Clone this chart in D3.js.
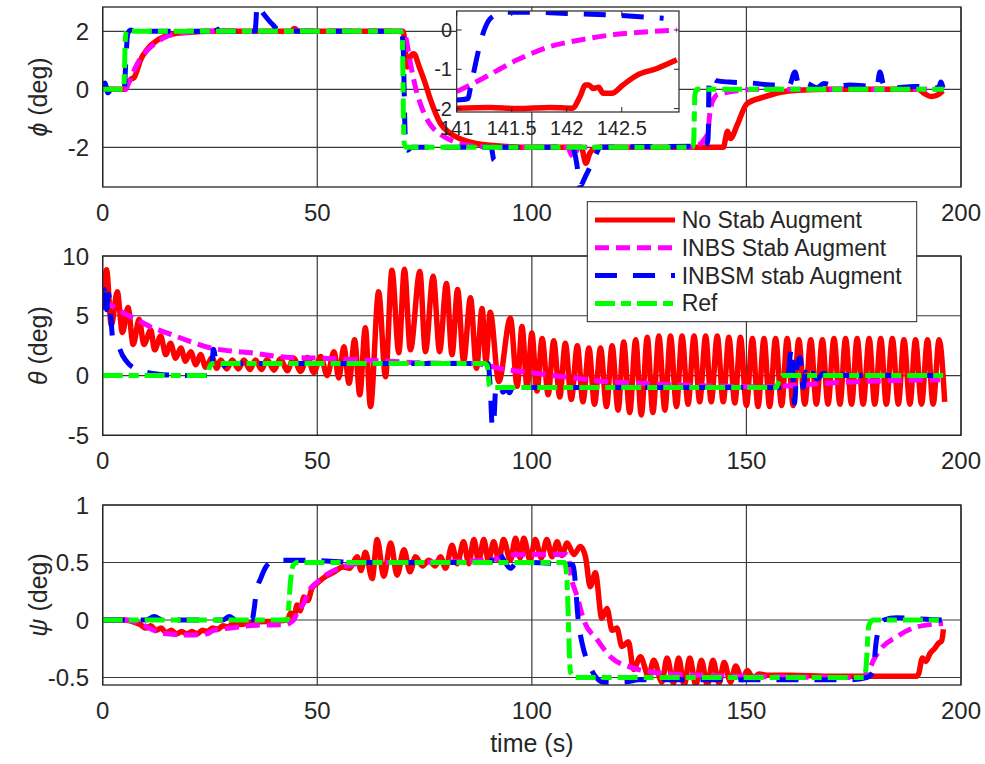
<!DOCTYPE html>
<html>
<head>
<meta charset="utf-8">
<script src="https://cdn.jsdelivr.net/npm/d3@7"></script>
<style>
    body { margin: 0; background: #fff; }
    svg { display: block; }
    text { font-family: "Liberation Sans", Arial, sans-serif; fill: #262626; }
</style>
</head>
<body>
<div id="chart"></div>
<script>
// ticks and names
const timeTicks = [0, 50, 100, 150, 200]
const phiTicks = [-2, 0, 2]
const thetaTicks = [-5, 0, 5, 10]
const psiTicks = [-0.5, 0, 0.5, 1]
const insetTimeTicks = [141, 141.5, 142, 142.5]
const insetPhiTicks = [-2, -1, 0]
const seriesNames = ["No Stab Augment", "INBS Stab Augment", "INBSM stab Augment", "Ref"]

// phi (deg) vs time (s)
const phiRef = [[0,0],[4.8,0],[5.0,0.3],[5.3,1.8],[5.6,2],[69.4,2],[69.8,1.8],[70.2,-1.8],[70.6,-2],[137.4,-2],[137.7,-1.8],[138.0,-0.2],[138.4,0],[196,0]]
const phiNoStab = [[0,0],[5.3,0],[5.8,0.2],[6.6,0.35],[7.3,0.4],[8.0,0.65],[8.8,1.0],[10.5,1.4],[12.7,1.69],[14.5,1.83],[16.6,1.92],[20.5,1.97],[25,2.0],[43.8,2.0],[44.7,2.1],[45.6,2.0],[70.0,2.0],[70.5,1.4],[70.9,0.77],[71.6,1.1],[72.5,1.23],[73.7,0.8],[74.9,0.32],[76.4,-0.37],[78.7,-1.18],[81,-1.52],[84.1,-1.75],[87,-1.87],[90.3,-1.93],[95,-1.98],[100,-2.0],[111.5,-2.0],[112.6,-2.55],[113.5,-2.2],[114.5,-2.05],[116,-2.0],[144.6,-2.0],[145.6,-1.45],[146.3,-1.7],[147.8,-1.25],[150.1,-0.5],[154,-0.27],[158,-0.1],[162,-0.03],[170,0],[190,0],[191.5,-0.15],[193,-0.25],[194.5,-0.2],[195.8,-0.05]]
const phiINBS = [[0,0],[5.3,0],[6.0,0.2],[7.0,0.55],[8.1,0.89],[9.5,1.2],[11.2,1.46],[13,1.67],[15,1.83],[17.5,1.93],[20.5,1.98],[25,2.0],[70.0,2.0],[70.6,1.8],[71.7,0.9],[73.0,0.0],[74.8,-0.8],[76.5,-1.25],[78.7,-1.55],[81,-1.75],[84,-1.9],[88,-1.97],[92,-2.0],[108.3,-2.0],[109.2,-2.25],[109.8,-2.35],[110.5,-2.1],[111.2,-2.0],[137.5,-2.0],[138.5,-1.95],[139.5,-1.85],[140.3,-1.7],[141,-1.5],[141.5,-0.8],[142,-0.45],[142.5,-0.3],[143,-0.2],[145,-0.12],[148,-0.05],[152,0],[196,0]]
const phiINBSM = [[0,0],[0.5,0.22],[1.2,-0.12],[2.0,0],[5.0,0],[5.4,1.0],[5.8,1.9],[6.5,2.05],[7.5,2.0],[25.3,2.0],[26.0,2.28],[26.6,2.1],[27.2,2.0],[35.5,2.0],[36.0,2.9],[37.5,2.6],[39.5,2.25],[41,2.05],[45,2.0],[69.6,2.0],[70.0,1.5],[70.5,-1.6],[71.0,-2.1],[72.0,-2.0],[90.5,-2.0],[91.2,-2.45],[91.8,-1.95],[92.5,-2.0],[109.5,-2.0],[110.5,-2.6],[111.2,-3.35],[112.5,-3.0],[114.5,-2.4],[116,-2.0],[140.5,-1.95],[141.0,-1.78],[141.13,-1.4],[141.2,-0.5],[141.25,0.0],[141.33,0.35],[141.45,0.45],[142,0.4],[143,0.3],[146,0.25],[151,0.22],[156,0.15],[160,0.15],[161.3,0.6],[162.3,0.1],[164,0.2],[166.4,0.05],[168,0.2],[171,0.1],[174,0.15],[180.4,0.1],[181.1,0.6],[182,0.15],[184,0.05],[189,0.1],[194.8,0.05],[195.3,0.25],[195.8,0.05]]

// theta (deg) vs time (s); the oscillating run is kept as its read peaks and troughs
const thetaRef = [[0,0],[24.3,0],[24.8,0.6],[25.5,1.0],[89.0,1.0],[89.6,0.8],[90.1,-0.8],[90.6,-1.0],[157.0,-1.0],[157.5,-0.5],[158.2,0],[196,0]]
const thetaNoStab = [[0,6.0],[0.9,8.85],[2.0,4.2],[3.4,7.0],[4.6,3.6],[5.9,5.7],[7.1,2.6],[8.5,4.7],[9.6,2.6],[11.2,3.8],[12.1,2.15],[13.5,3.3],[14.7,1.75],[15.8,2.7],[17.0,1.45],[18.2,2.3],[19.3,1.2],[20.5,2.0],[21.7,0.9],[22.8,1.75],[24.0,0.7],[25.5,1.5],[26.6,0.6],[27.5,1.3],[28.9,0.55],[30.2,1.3],[31.6,0.55],[32.9,1.3],[34.3,0.5],[35.6,1.3],[37.0,0.5],[38.3,1.35],[39.9,0.45],[41.4,1.4],[43.0,0.4],[44.5,1.45],[46.1,0.35],[47.7,1.5],[49.2,0.25],[50.8,1.6],[52.3,0.0],[53.9,2.0],[55.0,-0.2],[56.2,2.4],[57.4,-0.65],[58.7,3.0],[59.9,-1.6],[61.2,4.0],[62.4,-2.6],[64.3,7.0],[65.9,-0.1],[67.4,8.8],[69.0,1.9],[70.3,8.9],[71.7,2.15],[73.9,8.7],[75.2,2.0],[77.0,8.3],[78.5,2.0],[80.1,7.7],[81.4,1.75],[82.7,7.2],[84.1,1.2],[85.7,6.5],[87.1,0.6],[88.4,5.6],[89.3,1.2],[90.3,5.3],[92.3,-0.5],[95.0,4.8],[96.6,-0.9],[97.7,4.1],[98.9,-1.0],[100.0,3.55],[101.2,-1.3],
    [102.4,3.1],[103.8,-1.6],[105.1,2.9],[106.5,-1.8],[107.8,2.7],[109.2,-2.0],[110.6,2.5],[111.9,-2.2],[113.3,2.3],[114.6,-2.4],[116.0,2.3],[117.4,-2.6],[118.7,2.5],[120.1,-2.9],[121.4,2.8],[122.8,-3.1],[124.2,3.0],[125.5,-3.3],[126.9,3.2],[128.2,-3.1],[129.6,3.3],[131.0,-2.9],[132.3,3.3],[133.7,-2.6],[135.0,3.3],[136.4,-2.4],[137.8,3.3],[139.1,-2.2],[140.5,3.3],[141.8,-2.2],[143.2,3.3],[144.6,-2.2],[145.9,3.2],[147.3,-2.3],[148.6,3.2],[150.0,-2.5],[151.4,3.1],[152.7,-2.6],[154.1,3.1],[155.4,-2.6],[156.8,3.1],[158.2,-2.5],[159.5,3.1],[160.9,-2.5],[162.2,3.0],[163.6,-2.4],[165.0,3.0],[166.3,-2.4],[167.7,3.0],[169.0,-2.4],[170.4,3.1],[171.8,-2.4],[173.1,3.1],[174.5,-2.4],[175.8,3.1],[177.2,-2.4],[178.6,3.1],[179.9,-2.4],[181.3,3.1],[182.6,-2.4],[184.0,3.1],[185.4,-2.4],[186.7,3.0],[188.1,-2.4],[189.4,3.0],[190.8,-2.4],[192.2,3.0],[193.5,-2.4],[194.9,3.0],[196.2,-2.2]]
const thetaINBS = [[0,6.3],[1.9,5.9],[4.5,5.3],[7.3,4.8],[11,4.1],[15.1,3.55],[20,2.9],[25.2,2.3],[30,2.05],[34.5,1.9],[43.8,1.5],[51.2,1.45],[60,1.3],[66.7,1.2],[75,1.05],[86.9,1.0],[90,0.8],[92.4,0.6],[96,0.4],[100.9,0.2],[103.9,0.05],[110,-0.2],[115.6,-0.45],[125.6,-0.65],[134.9,-0.8],[145.8,-0.9],[155.1,-0.95],[158,-0.9],[162,-0.8],[168.7,-0.65],[176.5,-0.5],[185,-0.42],[195.1,-0.35]]
const thetaINBSM = [[0,5.5],[0.4,7.2],[0.9,5.5],[1.4,6.8],[1.9,4.9],[2.3,3.2],[3.5,2.6],[4.6,1.7],[6,1.0],[8,0.5],[10,0.3],[12,0.15],[15,0.05],[20,0],[25.3,0],[25.8,2.2],[26.5,1.0],[27.5,0.6],[28.5,0.9],[30,1.0],[89.8,1.0],[90.3,-1.0],[90.8,-4.3],[91.2,-3.5],[91.6,-1.0],[92.5,-0.8],[93.3,-1.4],[94,-1.1],[94.8,-1.45],[95.5,-1.0],[157.5,-1.0],[159.5,-0.5],[160.5,2.3],[161.2,-2.3],[161.8,0.8],[162.5,1.5],[163.2,-1.0],[163.8,0.3],[164.5,-0.4],[165.5,0.2],[166.5,-0.3],[168,0.2],[169.5,-0.2],[171,0.2],[173,0],[196,0]]

// psi (deg) vs time (s)
const psiRef = [[0,0],[43.0,0],[43.8,0.35],[44.3,0.47],[45.3,0.5],[107.6,0.5],[108.1,0.4],[109.0,-0.45],[110.0,-0.5],[177.5,-0.5],[177.9,-0.4],[178.5,-0.05],[179.5,0],[196,0]]
const psiNoStab = [[0,0],[5,0],[7.5,-0.02],[8.8,-0.04],[10,-0.07],[11.2,-0.05],[12.4,-0.09],[13.6,-0.07],[14.8,-0.11],[16.0,-0.09],[17.2,-0.12],[18.4,-0.1],[19.6,-0.12],[20.8,-0.1],[22,-0.12],[23.2,-0.09],[24.4,-0.1],[25.6,-0.07],[26.8,-0.08],[28,-0.05],[29.2,-0.06],[30.4,-0.03],[32,-0.04],[35,-0.02],[40,-0.01],[43,0.0],[43.8,0.06],[44.5,0.02],[45.3,0.13],[46,0.08],[46.9,0.2],[47.8,0.17],[48.8,0.28],[50,0.32],[52,0.38],[54,0.42],[56,0.46],[57.5,0.45],[59.3,0.55],[60.2,0.43],[61.2,0.59],[62.8,0.36],[63.95,0.70],[65.5,0.38],[67.1,0.67],[68.6,0.39],[70.2,0.61],[71.6,0.42],[72.9,0.55],[74.5,0.47],[76,0.52],[77.5,0.47],[78.7,0.55],[79.9,0.45],[81.4,0.65],[82.6,0.49],[84.1,0.68],[85.3,0.49],[86.5,0.70],[87.6,0.51],[88.8,0.70],[89.9,0.51],[91.1,0.68],[92.3,0.52],[93.4,0.70],[95.0,0.52],[96.2,0.71],[97.3,0.54],[98.1,0.71],[99.6,0.52],[100.8,0.70],[102.2,0.54],[103.5,0.70],[104.7,0.55],[105.9,0.68],[107.0,0.56],[108.2,0.67],[109.8,0.57],[111.3,0.64],[112.5,0.55],[113.6,0.29],[114.8,0.41],[116.3,0.015],[117.5,0.10],[118.7,-0.09],[119.8,-0.07],[121.0,-0.23],[122.5,-0.19],[123.7,-0.43],[125.3,-0.32],[127.2,-0.49],[128.4,-0.35],[130.3,-0.54],[131.5,-0.33],[133.0,-0.55],[134.2,-0.33],[135.5,-0.565],[136.8,-0.33],[138.2,-0.565],[139.5,-0.35],[140.9,-0.565],[142.2,-0.35],[143.6,-0.55],[144.8,-0.37],[146.3,-0.54],[147.5,-0.4],[149,-0.52],[150.2,-0.44],[151.5,-0.5],[153,-0.47],[155,-0.48],[160,-0.48],[170,-0.49],[180,-0.49],[189.5,-0.49],[190.1,-0.47],[191.0,-0.33],[191.8,-0.36],[192.8,-0.29],[193.8,-0.25],[194.8,-0.2],[195.5,-0.18],[195.9,-0.08]]
const psiINBS = [[0,0],[5,0],[8.8,-0.03],[10.7,-0.07],[12.7,-0.1],[15,-0.12],[20,-0.13],[24.4,-0.12],[25.8,-0.09],[29.8,-0.07],[33,-0.055],[36,-0.045],[42.8,-0.04],[43.8,-0.02],[44.5,0.0],[45.5,0.08],[46.9,0.15],[48,0.25],[50,0.33],[52,0.39],[55,0.45],[58,0.48],[62,0.5],[70,0.5],[90,0.52],[95,0.565],[100,0.57],[108,0.57],[108.5,0.55],[109,0.41],[110.6,0.2],[112.1,0.0],[115.2,-0.17],[118.3,-0.32],[122.9,-0.41],[127.6,-0.45],[132.2,-0.47],[150,-0.49],[177.5,-0.5],[178,-0.45],[178.6,-0.43],[179.6,-0.35],[181.1,-0.26],[185,-0.145],[188.8,-0.07],[192.7,-0.04],[195.8,-0.03]]
const psiINBSM = [[0,0],[10,0],[12,0.03],[14,0.0],[28,0.0],[29.5,0.03],[31,0],[34.8,0],[35.3,0.1],[35.8,0.25],[36.8,0.36],[38,0.46],[39.5,0.51],[41,0.52],[46,0.52],[60,0.5],[90.3,0.5],[91.5,0.61],[93,0.55],[95,0.45],[96.5,0.5],[109.5,0.48],[109.7,0.46],[110.9,-0.03],[111.7,-0.2],[113.6,-0.41],[115,-0.5],[116.7,-0.54],[121.4,-0.54],[125,-0.52],[174,-0.52],[178,-0.5],[179.5,-0.45],[180.2,-0.2],[181,-0.05],[182,0.0],[185,0.02],[190,0.01],[195.5,0.0]]

// inset: phi zoomed on 141..143 s
const insetNoStab = [[141,-1.99],[141.3,-1.97],[141.55,-2.0],[141.85,-1.97],[142.05,-1.99],[142.12,-1.7],[142.17,-1.4],[142.2,-1.4],[142.24,-1.49],[142.29,-1.46],[142.33,-1.61],[142.41,-1.61],[142.51,-1.4],[142.64,-1.15],[142.82,-0.98],[143,-0.76]]
const insetINBS = [[141,-1.57],[141.24,-1.23],[141.55,-0.76],[141.85,-0.42],[142.15,-0.24],[142.45,-0.11],[142.76,-0.04],[143,0]]
const insetINBSM = [[141,-1.78],[141.1,-1.75],[141.13,-1.4],[141.2,-0.5],[141.25,0.0],[141.33,0.35],[141.45,0.45],[141.7,0.45],[142.0,0.42],[142.4,0.38],[142.88,0.3]]

const width = 985,
    height = 764

const svg = d3.select('#chart')
    .append('svg')
    .attr('width', width)
    .attr('height', height)

const x = d3.scaleLinear().domain([0, 200]).range([102.7, 961])

const styles = [
    {color: '#ff0000', dash: null, w: 5.5},
    {color: '#ff00ff', dash: '14,7', w: 5},
    {color: '#0000ff', dash: '22,16', w: 5},
    {color: '#00ff00', dash: '20,6,10,6', w: 5}
]

const legendBox = {x: 587.3, y: 201.7, w: 329.4, h: 120}

const panels = [
    {top: 7, bottom: 187, domain: [-3.37, 2.84], ticks: phiTicks, greek: 'ϕ', series: [phiNoStab, phiINBS, phiINBSM, phiRef]},
    {top: 256, bottom: 435.3, domain: [-5, 10], ticks: thetaTicks, greek: 'θ', series: [thetaNoStab, thetaINBS, thetaINBSM, thetaRef]},
    {top: 505, bottom: 685, domain: [-0.565, 1], ticks: psiTicks, greek: 'ψ', series: [psiNoStab, psiINBS, psiINBSM, psiRef]}
]

function drawLines(g, series, xs, ys) {
    let line = d3.line()
        .x(function (d) { return xs(d[0]) })
        .y(function (d) { return ys(d[1]) })
        .curve(d3.curveMonotoneX)
    series.forEach(function (data, i) {
        g.append('path')
            .attr('d', line(data))
            .attr('fill', 'none')
            .attr('stroke', styles[i].color)
            .attr('stroke-width', styles[i].w)
            .attr('stroke-linejoin', 'round')
            .attr('stroke-dasharray', styles[i].dash)
    })
}

// a tick label that sits fully under the legend box is not seen in the figure
function underLegend(cx, cy) {
    return cx > legendBox.x + 20 && cx < legendBox.x + legendBox.w - 20 && cy > legendBox.y && cy < legendBox.y + legendBox.h
}

panels.forEach(function (p, k) {
    let y = d3.scaleLinear().domain(p.domain).range([p.bottom, p.top])
    let g = svg.append('g')

    // grid
    g.selectAll('.vgrid').data(timeTicks).enter().append('line')
        .attr('x1', d => x(d)).attr('x2', d => x(d))
        .attr('y1', p.top).attr('y2', p.bottom)
        .attr('stroke', '#3a3a3a').attr('stroke-width', 1.2)
    g.selectAll('.hgrid').data(p.ticks).enter().append('line')
        .attr('x1', x(0)).attr('x2', x(200))
        .attr('y1', d => y(d)).attr('y2', d => y(d))
        .attr('stroke', '#3a3a3a').attr('stroke-width', 1.2)

    g.append('clipPath').attr('id', 'clip' + k)
        .append('rect')
        .attr('x', x(0)).attr('y', p.top)
        .attr('width', x(200) - x(0)).attr('height', p.bottom - p.top)

    let lines = g.append('g').attr('clip-path', 'url(#clip' + k + ')')
    drawLines(lines, p.series, x, y)

    g.append('rect')
        .attr('x', x(0)).attr('y', p.top)
        .attr('width', x(200) - x(0)).attr('height', p.bottom - p.top)
        .attr('fill', 'none').attr('stroke', '#262626').attr('stroke-width', 1.3)

    g.selectAll('.xlab').data(timeTicks.filter(d => !underLegend(x(d), p.bottom + 26))).enter().append('text')
        .attr('x', d => x(d)).attr('y', p.bottom + 34)
        .attr('text-anchor', 'middle').attr('font-size', 24)
        .text(d => d)
    g.selectAll('.ylab').data(p.ticks).enter().append('text')
        .attr('x', 89).attr('y', d => y(d) + 8.5)
        .attr('text-anchor', 'end').attr('font-size', 24)
        .text(d => d)

    let lab = g.append('text')
        .attr('transform', 'translate(47,' + ((p.top + p.bottom) / 2) + ') rotate(-90)')
        .attr('text-anchor', 'middle').attr('font-size', 25)
    lab.append('tspan').attr('font-style', 'italic').text(p.greek)
    lab.append('tspan').text(' (deg)')
})

svg.append('text')
    .attr('x', (x(0) + x(200)) / 2).attr('y', 752)
    .attr('text-anchor', 'middle').attr('font-size', 25)
    .text('time (s)')

// inset axes
let ix = d3.scaleLinear().domain([141, 143.02]).range([456.7, 679])
let iy = d3.scaleLinear().domain([-2.087, 0.483]).range([112, 11])
let inset = svg.append('g')
inset.append('rect')
    .attr('x', 456.7).attr('y', 11).attr('width', 679 - 456.7).attr('height', 101)
    .attr('fill', '#fff')
inset.append('clipPath').attr('id', 'clipInset')
    .append('rect').attr('x', 456.7).attr('y', 11).attr('width', 679 - 456.7).attr('height', 101)
let insetLines = inset.append('g').attr('clip-path', 'url(#clipInset)')
drawLines(insetLines, [insetNoStab, insetINBS, insetINBSM], ix, iy)
inset.append('rect')
    .attr('x', 456.7).attr('y', 11).attr('width', 679 - 456.7).attr('height', 101)
    .attr('fill', 'none').attr('stroke', '#262626').attr('stroke-width', 1.2)
insetTimeTicks.forEach(function (t) {
    inset.append('line').attr('x1', ix(t)).attr('x2', ix(t)).attr('y1', 112).attr('y2', 107).attr('stroke', '#262626')
    inset.append('line').attr('x1', ix(t)).attr('x2', ix(t)).attr('y1', 11).attr('y2', 16).attr('stroke', '#262626')
    inset.append('text').attr('x', ix(t)).attr('y', 135)
        .attr('text-anchor', 'middle').attr('font-size', 20).text(t)
})
insetPhiTicks.forEach(function (v) {
    inset.append('line').attr('x1', 456.7).attr('x2', 461.7).attr('y1', iy(v)).attr('y2', iy(v)).attr('stroke', '#262626')
    inset.append('line').attr('x1', 679).attr('x2', 674).attr('y1', iy(v)).attr('y2', iy(v)).attr('stroke', '#262626')
    inset.append('text').attr('x', 452).attr('y', iy(v) + 7)
        .attr('text-anchor', 'end').attr('font-size', 20).text(v)
})

// legend
let legend = svg.append('g')
legend.append('rect')
    .attr('x', legendBox.x).attr('y', legendBox.y).attr('width', legendBox.w).attr('height', legendBox.h)
    .attr('fill', '#fff').attr('stroke', '#262626').attr('stroke-width', 1)
seriesNames.forEach(function (name, i) {
    let cy = 220 + i * 27.8
    legend.append('line')
        .attr('x1', 595).attr('x2', 675).attr('y1', cy).attr('y2', cy)
        .attr('stroke', styles[i].color).attr('stroke-width', 5)
        .attr('stroke-dasharray', styles[i].dash)
    legend.append('text')
        .attr('x', 681.7).attr('y', cy + 8)
        .attr('font-size', 23).attr('fill', '#000')
        .text(name)
})
</script>
</body>
</html>
